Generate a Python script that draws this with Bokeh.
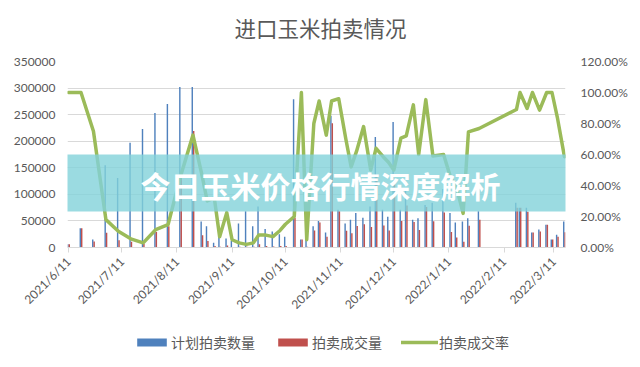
import math
import pandas as pd
from bokeh.plotting import figure
from bokeh.layouts import column
from bokeh.models import (Range1d, LinearAxis, FixedTicker, NumeralTickFormatter, Legend,
                          LegendItem, Label, BoxAnnotation, ColumnDataSource)
from bokeh.transform import dodge
from bokeh.embed import file_html
from bokeh.resources import INLINE

# ---------------- data ----------------
dates = ["2021-06-11", "2021-06-18", "2021-06-25", "2021-07-02", "2021-07-09", "2021-07-16",
         "2021-07-23", "2021-07-30", "2021-08-06", "2021-08-13", "2021-08-20", "2021-08-25",
         "2021-08-28", "2021-09-01", "2021-09-04", "2021-09-08", "2021-09-11", "2021-09-15",
         "2021-09-19", "2021-09-23", "2021-09-26", "2021-09-30", "2021-10-04", "2021-10-08",
         "2021-10-11", "2021-10-16", "2021-10-20", "2021-10-23", "2021-10-27", "2021-10-30",
         "2021-11-03", "2021-11-06", "2021-11-10", "2021-11-14", "2021-11-17", "2021-11-20",
         "2021-11-24", "2021-11-28", "2021-12-01", "2021-12-05", "2021-12-08", "2021-12-11",
         "2021-12-15", "2021-12-18", "2021-12-22", "2021-12-25", "2021-12-29", "2022-01-02",
         "2022-01-08", "2022-01-12", "2022-01-15", "2022-01-19", "2022-01-22", "2022-01-28",
         "2022-02-18", "2022-02-20", "2022-02-24", "2022-02-27", "2022-03-03", "2022-03-07",
         "2022-03-10", "2022-03-13", "2022-03-17"]

planned = [6000, 36000, 15000, 155000, 131000, 197000,
           223000, 253000, 270000, 302000, 302000, 49000,
           40000, 9000, 21000, 17000, 12000, 45000,
           68000, 40000, 77000, 35000, 30000, 25000,
           20000, 279000, 15000, 30000, 40000, 50000,
           28000, 248000, 71000, 45000, 52000, 65000,
           56000, 77000, 208000, 71000, 58000, 236000,
           71000, 110000, 52000, 55000, 80000, 84000,
           110000, 65000, 47000, 49000, 55000, 68000,
           84000, 75000, 75000, 28000, 34000, 43000,
           15000, 24000, 49000]

traded = [6000, 36000, 11200, 27900, 13800, 11000,
          6700, 29100, 40000, 139000, 219000, 23000,
          12000, 2900, 1500, 3800, 600, 1400,
          1400, 1200, 6200, 2800, 2100, 2800,
          3000, 55800, 15000, 1500, 32000, 47200,
          20300, 234000, 68200, 31500, 27000, 40300,
          43700, 38500, 133000, 41600, 31900, 118000,
          50100, 79200, 47800, 33000, 76300, 49600,
          66000, 29000, 18800, 10800, 41000, 52200,
          74800, 75000, 67300, 28000, 30100, 43000,
          15000, 20200, 28700]

rate = [1.00, 1.00, 0.75, 0.18, 0.105, 0.056,
        0.03, 0.115, 0.148, 0.46, 0.725, 0.47,
        0.30, 0.32, 0.07, 0.225, 0.05, 0.03,
        0.02, 0.03, 0.08, 0.08, 0.07, 0.11,
        0.15, 0.20, 1.00, 0.05, 0.80, 0.945,
        0.725, 0.945, 0.96, 0.70, 0.52, 0.62,
        0.78, 0.50, 0.64, 0.586, 0.55, 0.50,
        0.706, 0.72, 0.92, 0.60, 0.954, 0.59,
        0.60, 0.45, 0.40, 0.22, 0.746, 0.768,
        0.89, 1.00, 0.897, 1.00, 0.886, 1.00,
        1.00, 0.84, 0.586]

tick_labels = ["2021/6/11", "2021/7/11", "2021/8/11", "2021/9/11", "2021/10/11",
               "2021/11/11", "2021/12/11", "2022/1/11", "2022/2/11", "2022/3/11"]
left_ticks = [0, 50000, 100000, 150000, 200000, 250000, 300000, 350000]
right_ticks = [0, 0.2, 0.4, 0.6, 0.8, 1.0, 1.2]

title_text = "进口玉米拍卖情况"
banner_text = "今日玉米价格行情深度解析"
series_names = ["计划拍卖数量", "拍卖成交量", "拍卖成交率"]

# ---------------- build ----------------
start = pd.Timestamp(dates[0])
day = [(pd.Timestamp(d) - start).days for d in dates]
tick_days = [(pd.Timestamp(t) - start).days for t in tick_labels]

src = ColumnDataSource(dict(day=day, planned=planned, traded=traded, rate=rate))

FONT = "Lato"
CJK = "Noto Sans CJK SC"
GREY = "#595959"
BLUE, RED, GREEN = "#4F81BD", "#C0504D", "#9BBB59"
X_RANGE = (-0.6, 279.6)


def strip(height, y_range):
    f = figure(width=640, height=height, output_backend="svg", toolbar_location=None,
               x_axis_type=None, y_axis_type=None, min_border=0,
               x_range=Range1d(*X_RANGE), y_range=Range1d(*y_range))
    f.outline_line_color = None
    f.background_fill_color = "white"
    f.border_fill_color = "white"
    return f


# ---------------- title strip ----------------
tf = strip(45, (0, 1))
tf.add_layout(Label(x=253, y=18, x_units="screen", y_units="screen", text=title_text,
                    text_align="center", text_baseline="middle", text_font=CJK,
                    text_font_size="21.5px", text_color=GREY))

# ---------------- main chart ----------------
p = figure(width=640, height=275, output_backend="svg", toolbar_location=None,
           x_range=Range1d(*X_RANGE), y_range=Range1d(0, 350000),
           min_border_left=67, min_border_right=75, min_border_top=16, min_border_bottom=72)
p.outline_line_color = None
p.background_fill_color = "white"
p.border_fill_color = "white"

xa = p.xaxis[0]
xa.ticker = FixedTicker(ticks=tick_days)
xa.major_label_overrides = {d: t for d, t in zip(tick_days, tick_labels)}
xa.major_label_orientation = math.pi / 4
xa.major_label_text_font = FONT
xa.major_label_text_font_size = "12px"
xa.major_label_text_color = GREY
xa.axis_line_color = "#d9d9d9"
xa.major_tick_line_color = "#d9d9d9"
xa.major_tick_in = 0
xa.major_tick_out = 5
xa.minor_tick_line_color = None
xa.major_label_standoff = 7

ya = p.yaxis[0]
ya.ticker = FixedTicker(ticks=left_ticks)
ya.formatter = NumeralTickFormatter(format="0")
ya.axis_line_color = None
ya.major_tick_line_color = None
ya.minor_tick_line_color = None
ya.major_tick_out = 0
ya.major_tick_in = 0
ya.major_label_text_font = FONT
ya.major_label_text_font_size = "12px"
ya.major_label_text_color = GREY
ya.major_label_standoff = 12

p.extra_y_ranges = {"r": Range1d(0, 1.2)}
ra = LinearAxis(y_range_name="r", ticker=FixedTicker(ticks=right_ticks),
                formatter=NumeralTickFormatter(format="0.00%"))
ra.axis_line_color = None
ra.major_tick_line_color = None
ra.minor_tick_line_color = None
ra.major_tick_out = 0
ra.major_tick_in = 0
ra.major_label_text_font = FONT
ra.major_label_text_font_size = "12px"
ra.major_label_text_color = GREY
ra.major_label_standoff = 15
p.add_layout(ra, "right")

p.xgrid.grid_line_color = None
p.ygrid.grid_line_color = "#d9d9d9"

rb = p.vbar(x=dodge("day", -0.4, range=p.x_range), top="planned", width=0.8, source=src,
            fill_color=BLUE, line_color=None)
rr = p.vbar(x=dodge("day", 0.4, range=p.x_range), top="traded", width=0.8, source=src,
            fill_color=RED, line_color=None)
rl = p.line(x="day", y="rate", source=src, y_range_name="r", line_color=GREEN,
            line_width=3.5, line_join="round", line_cap="round")

# banner overlay
p.add_layout(BoxAnnotation(left=-70, right=580, bottom=36, top=93, left_units="screen",
                           right_units="screen", bottom_units="screen", top_units="screen",
                           fill_color="#82D2DA", fill_alpha=0.8, line_color=None))
p.add_layout(Label(x=253, y=63, x_units="screen", y_units="screen", text=banner_text,
                   text_align="center", text_baseline="middle", text_font=CJK,
                   text_font_style="bold", text_font_size="30px", text_color="white"))

# ---------------- legend strip (same series, drawn outside its visible y range) ----------------
lf = strip(47, (5e6, 6e6))
lb = lf.vbar(x="day", top="planned", width=0.8, source=src, fill_color=BLUE, line_color=None)
lr = lf.vbar(x="day", top="traded", width=0.8, source=src, fill_color=RED, line_color=None)
ll = lf.line(x="day", y="rate", source=src, line_color=GREEN, line_width=3.5,
             line_cap="round")

legend = Legend(items=[LegendItem(label=series_names[0], renderers=[lb]),
                       LegendItem(label=series_names[1], renderers=[lr]),
                       LegendItem(label=series_names[2], renderers=[ll])],
                orientation="horizontal", location=(66, 15), padding=0, margin=0,
                spacing=19, label_standoff=1, glyph_width=37, glyph_height=10,
                label_height=16, label_text_font=CJK, label_text_font_size="14px",
                label_text_color=GREY, border_line_color=None, background_fill_alpha=0)
lf.add_layout(legend, "center")

layout = column(tf, p, lf, spacing=0)
open("out.html", "w").write(file_html(layout, INLINE))
